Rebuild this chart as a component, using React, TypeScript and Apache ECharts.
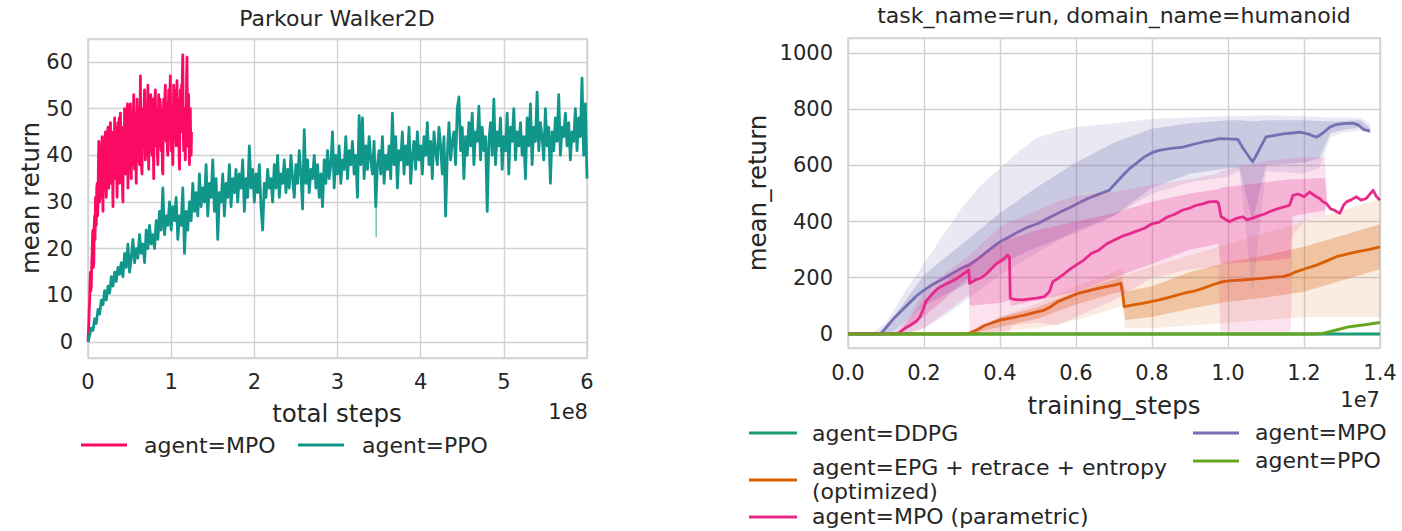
import React, { useEffect, useRef } from "react";
import * as echarts from "echarts";

// ---------- Left chart: Parkour Walker2D ----------
const mpoStep = 0.005; // 1e8 units
const mpoLeft = [
  0, 2, 4, 7, 9, 13, 15, 11, 12, 17,
  19, 23, 24, 16, 17, 25, 27, 22, 31, 28,
  25, 33, 34, 27, 29, 38, 43, 33, 30, 41,
  40, 31, 33, 42, 44, 35, 28, 39, 42, 34,
  36, 44, 45, 33, 31, 40, 41, 45, 46, 36,
  33, 43, 39, 46, 47, 34, 35, 45, 44, 38,
  29, 40, 42, 35, 48, 44, 37, 46, 45, 36,
  31, 44, 47, 39, 40, 48, 34, 42, 49, 40,
  38, 46, 44, 33, 30, 45, 46, 39, 50, 42,
  36, 47, 42, 37, 48, 51, 33, 38, 45, 40,
  39, 48, 51, 41, 35, 44, 47, 38, 42, 49,
  53, 40, 37, 46, 49, 41, 34, 45, 52, 44,
  41, 48, 50, 39, 38, 47, 57, 45, 44, 37,
  36, 46, 50, 42, 46, 51, 54, 43, 39, 48,
  48, 40, 43, 50, 55, 42, 37, 46, 51, 44,
  45, 53, 53, 41, 40, 49, 52, 43, 35, 46,
  47, 51, 54, 43, 42, 48, 50, 40, 38, 47,
  53, 44, 45, 52, 51, 42, 41, 50, 49, 37,
  36, 47, 52, 45, 46, 53, 55, 44, 43, 51,
  50, 41, 40, 49, 54, 46, 44, 53, 57, 45,
  41, 48, 50, 42, 38, 47, 55, 46, 47, 54,
  53, 44, 42, 51, 56, 47, 45, 52, 49, 40,
  37, 48, 54, 45, 46, 55, 52, 58, 61.5, 47,
  41, 49, 50, 43, 39, 48, 44, 56, 61, 50,
  42, 48, 53, 44, 38, 47, 50, 43, 40, 45,
];
const ppoStep = 0.02;
const ppoLeft = [
  0, 1.5, 3, 2.5, 5, 4, 7, 6, 9, 8,
  11, 9, 12, 10.5, 14, 12, 15, 13, 16, 14.5,
  17, 14, 19, 16, 21, 15, 18, 22, 17, 20,
  18, 23, 19, 21, 17, 24, 20, 25, 21, 23,
  20, 26, 22, 28, 24, 33, 23, 27, 25, 30,
  24, 29, 26, 31, 22, 27, 25, 33, 19, 28,
  24, 30, 26, 34, 28, 32, 27, 36, 29, 33,
  30, 38, 27, 34, 31, 39, 28, 35, 22, 32,
  30, 36, 27, 34, 31, 38, 29, 35, 32, 37,
  30, 36, 33, 39, 28, 35, 31, 42, 33, 37,
  30, 36, 32, 38, 29, 24, 34, 31, 37, 33,
  35, 30, 38, 33, 40, 31, 36, 34, 39, 32,
  37, 33, 40, 35, 31, 38, 34, 41, 36, 28.5,
  45.5, 34, 39, 32, 37, 35, 40, 33, 38, 31,
  36, 29, 39, 34, 41, 35, 38, 45, 33, 40,
  36, 42, 34, 39, 37, 44, 35, 41, 38, 43,
  36, 40, 31, 48.5, 38, 48, 35, 42, 37, 44,
  39, 36, 43, 29, 38, 41, 36, 44, 34, 40,
  37, 42, 35, 49, 38, 44, 33, 41, 39, 45,
  36, 42, 38, 46, 34, 40, 43, 37, 45, 39,
  42, 36, 44, 40, 47, 38, 43, 35, 45, 41,
  38, 46, 42, 36, 44, 27, 40, 47, 39, 43,
  45, 38, 50, 52.5, 41, 46, 35, 44, 40, 47,
  42, 49, 38, 45, 43, 50.5, 39, 46, 41, 44,
  28, 43, 47, 40, 52, 38, 45, 42, 48, 37,
  44, 41, 49, 36, 46, 43, 50, 39, 45, 42,
  47, 40, 44, 35, 48, 42, 51, 38, 46, 43,
  53.5, 41, 47, 44, 39, 50, 42, 46, 34, 45,
  41, 48, 43, 53, 40, 46, 44, 49, 42, 47,
  39, 45, 43, 50, 41, 48, 44, 56.5, 40, 51,
  35,
];
const ppoSpike = [[3.455, 35], [3.465, 22.5], [3.475, 36]];
const leftXTicks = [0, 1, 2, 3, 4, 5, 6];

// ---------- Right chart: humanoid run ----------
const ddpgRight = [[0, 0], [1.4, 0]];
const ppoRight = [[0, 0], [1.22, 0], [1.25, 2], [1.285, 14], [1.32, 26], [1.36, 33], [1.4, 41]];
const epgRight = [
  [0, 0], [0.315, 0], [0.34, 15], [0.359, 30], [0.38, 40], [0.403, 50], [0.43, 57], [0.464, 67],
  [0.49, 76], [0.517, 85], [0.535, 98], [0.552, 115], [0.58, 130], [0.605, 144], [0.63, 152],
  [0.658, 162], [0.68, 168], [0.7, 174], [0.718, 180], [0.722, 150], [0.727, 97], [0.75, 103],
  [0.775, 109], [0.8, 116], [0.819, 121], [0.85, 132], [0.881, 144], [0.91, 152], [0.934, 162],
  [0.96, 175], [0.986, 186], [1.01, 190], [1.039, 192], [1.065, 195], [1.092, 198], [1.12, 202],
  [1.145, 204], [1.165, 212], [1.18, 222], [1.205, 233], [1.233, 245], [1.26, 260], [1.285, 275],
  [1.31, 283], [1.338, 292], [1.37, 300], [1.4, 310],
];
const mpoRight = [
  [0, 0], [0.086, 0], [0.1, 22], [0.121, 56], [0.14, 82], [0.165, 115], [0.18, 135], [0.2, 156],
  [0.225, 178], [0.253, 198], [0.28, 220], [0.3, 235], [0.319, 245], [0.34, 265], [0.359, 286],
  [0.38, 308], [0.4, 328], [0.425, 346], [0.447, 363], [0.47, 378], [0.5, 393], [0.534, 417],
  [0.56, 435], [0.587, 452], [0.61, 468], [0.631, 482], [0.655, 495], [0.675, 505], [0.687, 511],
  [0.7, 530], [0.723, 564], [0.74, 587], [0.758, 606], [0.78, 630], [0.8, 645], [0.819, 653],
  [0.85, 660], [0.881, 665], [0.91, 675], [0.934, 683], [0.955, 688], [0.978, 695], [1.0, 694],
  [1.026, 692], [1.04, 660], [1.065, 612], [1.08, 650], [1.1, 701], [1.12, 706], [1.145, 712],
  [1.17, 715], [1.189, 718], [1.21, 712], [1.233, 700], [1.25, 715], [1.268, 736], [1.285, 745],
  [1.303, 748], [1.329, 750], [1.345, 742], [1.356, 728], [1.373, 722],
];
const mpoParamRight = [
  [0, 0], [0.13, 0], [0.15, 20], [0.165, 32], [0.18, 45], [0.19, 62], [0.2, 95], [0.205, 115],
  [0.22, 140], [0.236, 162], [0.25, 172], [0.265, 182], [0.28, 192], [0.3, 210], [0.318, 228],
  [0.32, 180], [0.335, 192], [0.35, 200], [0.36, 209], [0.375, 228], [0.39, 250], [0.405, 262],
  [0.42, 280], [0.425, 272], [0.427, 127], [0.44, 122], [0.46, 121], [0.48, 125], [0.5, 128],
  [0.517, 133], [0.53, 150], [0.539, 186], [0.55, 195], [0.57, 215], [0.587, 233], [0.6, 245],
  [0.62, 262], [0.64, 286], [0.66, 298], [0.68, 320], [0.7, 333], [0.72, 347], [0.74, 356],
  [0.758, 365], [0.78, 376], [0.8, 392], [0.819, 398], [0.84, 416], [0.86, 426], [0.881, 441],
  [0.9, 448], [0.915, 457], [0.934, 463], [0.95, 470], [0.969, 472], [0.975, 465], [0.982, 417],
  [1.004, 399], [1.02, 410], [1.039, 417], [1.05, 406], [1.065, 412], [1.08, 420], [1.095, 426],
  [1.109, 435], [1.125, 443], [1.14, 449], [1.162, 458], [1.171, 493], [1.185, 498], [1.2, 488],
  [1.215, 505], [1.23, 490], [1.241, 482], [1.25, 470], [1.259, 464], [1.27, 445], [1.28, 440],
  [1.294, 429], [1.305, 460], [1.312, 470], [1.325, 478], [1.338, 488], [1.35, 476], [1.364, 482],
  [1.375, 500], [1.382, 511], [1.39, 490], [1.4, 476],
];
// bands: [x, low, high]
const mpoOuter = [
  [0.06, 0, 0], [0.1, 0, 40], [0.15, 0, 150], [0.2, 20, 250], [0.25, 60, 350], [0.3, 110, 450],
  [0.35, 160, 530], [0.4, 210, 590], [0.45, 250, 650], [0.5, 290, 700], [0.55, 330, 720],
  [0.6, 370, 735], [0.7, 420, 750], [0.8, 500, 765], [0.9, 540, 770], [1.0, 560, 775],
  [1.03, 580, 775], [1.065, 150, 776], [1.1, 580, 778], [1.2, 570, 775], [1.24, 590, 772],
  [1.27, 700, 770], [1.3, 715, 770], [1.35, 725, 768], [1.375, 715, 745],
];
const mpoInner = [
  [0.08, 0, 0], [0.12, 10, 60], [0.2, 100, 210], [0.3, 170, 320], [0.4, 250, 430], [0.5, 310, 525],
  [0.6, 360, 610], [0.7, 420, 680], [0.8, 520, 730], [0.9, 570, 750], [1.0, 590, 760],
  [1.03, 590, 760], [1.065, 400, 756], [1.1, 600, 760], [1.2, 610, 760], [1.24, 625, 758],
  [1.27, 715, 756], [1.3, 725, 758], [1.35, 735, 760], [1.375, 712, 730],
];
const paramOuter = [
  [0.12, 0, 0], [0.16, 0, 60], [0.2, 20, 150], [0.25, 70, 210], [0.3, 120, 260], [0.318, 140, 280],
  [0.32, 0, 280], [0.35, 0, 320], [0.4, 0, 380], [0.425, 0, 400], [0.43, 30, 400], [0.5, 40, 440],
  [0.55, 30, 470], [0.6, 60, 490], [0.7, 120, 505], [0.8, 200, 530], [0.9, 230, 550],
  [0.975, 240, 570], [0.98, 0, 580], [1.1, 0, 615], [1.165, 0, 625], [1.17, 350, 625],
  [1.2, 400, 628], [1.255, 420, 630], [1.26, 470, 500],
];
const paramInner = [
  [0.13, 0, 0], [0.2, 60, 120], [0.3, 180, 240], [0.318, 200, 255], [0.32, 100, 255],
  [0.4, 110, 320], [0.425, 120, 340], [0.43, 100, 340], [0.5, 120, 370], [0.6, 150, 400],
  [0.7, 200, 430], [0.8, 250, 470], [0.9, 300, 500], [0.975, 320, 515], [0.98, 250, 520],
  [1.1, 260, 540], [1.165, 270, 550], [1.17, 420, 550], [1.255, 440, 555], [1.26, 470, 480],
];
const epgOuter = [
  [0.3, 0, 0], [0.35, 0, 30], [0.4, 10, 60], [0.5, 20, 110], [0.6, 50, 170], [0.7, 90, 220],
  [0.72, 100, 230], [0.73, 20, 210], [0.8, 20, 240], [0.9, 30, 280], [1.0, 40, 320],
  [1.1, 50, 360], [1.2, 60, 400], [1.3, 60, 440], [1.4, 60, 480],
];
const epgInner = [
  [0.32, 0, 0], [0.4, 25, 60], [0.5, 55, 95], [0.6, 105, 150], [0.7, 145, 195], [0.72, 150, 205],
  [0.73, 50, 150], [0.8, 60, 170], [0.9, 90, 220], [1.0, 115, 255], [1.1, 130, 280],
  [1.2, 150, 310], [1.3, 190, 350], [1.4, 230, 390],
];

const FONT = "DejaVu Sans";
const TXT = "#262626";
const GRIDC = "#d2d2d2";

function bandSeries(band: number[][], fill: string, z: number) {
  return {
    type: "custom",
    xAxisIndex: 1,
    yAxisIndex: 1,
    z,
    silent: true,
    data: band,
    encode: { x: 0, y: [1, 2] },
    renderItem: (params: any, api: any) => {
      if (params.dataIndex !== 0) return null;
      const top = band.map((p) => api.coord([p[0], p[2]]));
      const bot = band.map((p) => api.coord([p[0], p[1]])).reverse();
      return {
        type: "polygon",
        shape: { points: top.concat(bot) },
        style: { fill },
      };
    },
  };
}

function lineSeries(data: number[][], color: string, xi: number, z: number, width = 2.8) {
  return {
    type: "line",
    xAxisIndex: xi,
    yAxisIndex: xi,
    data,
    z,
    showSymbol: false,
    symbol: "none",
    lineStyle: { color, width, join: "round" },
    itemStyle: { color },
    silent: true,
  };
}

function txt(text: string, x: number, y: number, size: number, align = "center", rotation = 0) {
  return {
    type: "text",
    x,
    y,
    rotation,
    silent: true,
    style: {
      text,
      fill: TXT,
      font: `${size}px "${FONT}"`,
      textAlign: align,
      textVerticalAlign: "middle",
    },
  };
}

function legLine(x1: number, x2: number, y: number, color: string) {
  return {
    type: "line",
    silent: true,
    shape: { x1, y1: y, x2, y2: y },
    style: { stroke: color, lineWidth: 3 },
  };
}

export default function App() {
  const ref = useRef<HTMLDivElement>(null);
  useEffect(() => {
    if (!ref.current) return;
    const chart = echarts.init(ref.current, undefined, { renderer: "svg" });

    const axisCommon = {
      axisLine: { show: false },
      axisTick: { show: false },
      splitLine: { show: true, lineStyle: { color: GRIDC, width: 1.4 } },
    };
    const labelCommon = { color: TXT, fontFamily: FONT, fontSize: 21 };

    const mpoData = mpoLeft.map((v, i) => [i * mpoStep, v]);
    const ppoData = ppoLeft.map((v, i) => [i * ppoStep, v]);

    chart.setOption({
      animation: false,
      textStyle: { fontFamily: FONT },
      grid: [
        { left: 88, top: 39, width: 499, height: 319, show: true, borderColor: GRIDC, borderWidth: 1.5, backgroundColor: "transparent" },
        { left: 848, top: 38, width: 532, height: 310, show: true, borderColor: GRIDC, borderWidth: 1.5, backgroundColor: "transparent" },
      ],
      xAxis: [
        {
          type: "value", gridIndex: 0, min: leftXTicks[0], max: leftXTicks[leftXTicks.length - 1], interval: 1,
          ...axisCommon,
          axisLabel: { ...labelCommon, margin: 13, formatter: (v: number) => String(Math.round(v)) },
        },
        {
          type: "value", gridIndex: 1, min: 0, max: 1.4, interval: 0.2,
          ...axisCommon,
          axisLabel: { ...labelCommon, margin: 14, formatter: (v: number) => v.toFixed(1) },
        },
      ],
      yAxis: [
        {
          type: "value", gridIndex: 0, min: -3.4, max: 64.9,
          ...axisCommon,
          axisLabel: {
            ...labelCommon, margin: 15,
            formatter: (v: number) => {
              const r = Math.round(v);
              return Math.abs(v - r) < 1e-6 && r % 10 === 0 ? String(r) : "";
            },
          },
        },
        {
          type: "value", gridIndex: 1, min: -50, max: 1053,
          ...axisCommon,
          axisLabel: {
            ...labelCommon, margin: 15,
            formatter: (v: number) => {
              const r = Math.round(v);
              return Math.abs(v - r) < 1e-6 && r % 200 === 0 ? String(r) : "";
            },
          },
        },
      ],
      series: [
        lineSeries(mpoData, "#fb0a64", 0, 2, 2.8),
        lineSeries(ppoData, "#10968a", 0, 3, 2.8),
        lineSeries(ppoSpike, "rgba(16,150,138,0.5)", 0, 3, 1),

        lineSeries(ddpgRight, "#1b9e77", 1, 2, 3),
        bandSeries(epgOuter, "rgba(217,95,2,0.12)", 3),
        bandSeries(epgInner, "rgba(217,95,2,0.28)", 3),
        lineSeries(epgRight, "#d95f02", 1, 4, 2.8),
        bandSeries(mpoOuter, "rgba(117,112,179,0.16)", 5),
        bandSeries(mpoInner, "rgba(117,112,179,0.26)", 5),
        lineSeries(mpoRight, "#7570b3", 1, 6, 2.8),
        bandSeries(paramOuter, "rgba(231,41,138,0.14)", 7),
        bandSeries(paramInner, "rgba(231,41,138,0.24)", 7),
        lineSeries(mpoParamRight, "#e7298a", 1, 8, 2.8),
        lineSeries(ppoRight, "#66a61e", 1, 9, 3),
      ],
      graphic: [
        txt("Parkour Walker2D", 337, 18, 22),
        txt("task_name=run, domain_name=humanoid", 1114, 15, 22),
        txt("mean return", 30, 198, 24.5, "center", Math.PI / 2),
        txt("total steps", 337, 413, 24.5),
        txt("1e8", 588, 412, 21, "right"),
        txt("mean_return", 757, 193, 24.5, "center", Math.PI / 2),
        txt("training_steps", 1114, 405, 24.5),
        txt("1e7", 1380, 400, 21, "right"),

        legLine(81, 127, 445, "#fb0a64"),
        txt("agent=MPO", 144, 445, 22, "left"),
        legLine(298, 344, 445, "#10968a"),
        txt("agent=PPO", 362, 445, 22, "left"),

        legLine(749, 797, 433, "#1b9e77"),
        txt("agent=DDPG", 812, 433, 22, "left"),
        legLine(749, 797, 480, "#d95f02"),
        txt("agent=EPG + retrace + entropy", 812, 467, 22, "left"),
        txt("(optimized)", 812, 491, 22, "left"),
        legLine(749, 797, 517, "#e7298a"),
        txt("agent=MPO (parametric)", 812, 516, 22, "left"),
        legLine(1193, 1239, 433, "#7570b3"),
        txt("agent=MPO", 1255, 432, 22, "left"),
        legLine(1193, 1239, 461, "#66a61e"),
        txt("agent=PPO", 1255, 460, 22, "left"),
      ],
    });
    return () => chart.dispose();
  }, []);
  return (
    <div
      ref={ref}
      style={{ position: "absolute", left: 0, top: 0, width: 1402, height: 531, background: "#fff" }}
    />
  );
}
